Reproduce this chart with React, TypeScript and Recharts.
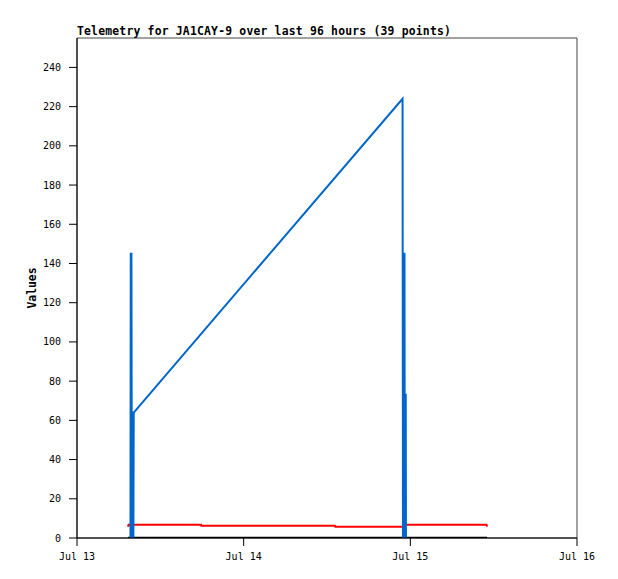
import { LineChart, Line, XAxis, YAxis, ReferenceArea } from "recharts";

// hours since Jul 13 00:00
const blueTimes = [7.7, 7.74, 7.84, 7.9, 7.95, 8.07, 8.12, 8.17, 46.88, 46.94, 47.0, 47.16, 47.2, 47.25, 47.34, 47.37];
const blueValues = [0, 145, 145, 0, 64, 64, 0, 64, 224, 0, 145, 145, 0, 73, 73, 0];

const redTimes = [7.34, 7.43, 17.86, 17.9, 37.15, 37.2, 46.94, 46.99, 58.97, 59.04];
const redValues = [5.7, 6.8, 6.8, 6.2, 6.2, 5.7, 5.7, 6.8, 6.8, 5.8];

const blackTimes = [7.34, 59.04];
const blackValues = [0, 0];

const xTicks = [0, 24, 48, 72];
const xTickLabels = ["Jul 13", "Jul 14", "Jul 15", "Jul 16"];
const yTicks = [0, 20, 40, 60, 80, 100, 120, 140, 160, 180, 200, 220, 240];

const title = "Telemetry for JA1CAY-9 over last 96 hours (39 points)";

const toPoints = (ts: number[], vs: number[]) => ts.map((t, i) => ({ t, v: vs[i] }));

const blue = toPoints(blueTimes, blueValues);
const red = toPoints(redTimes, redValues);
const black = toPoints(blackTimes, blackValues);

const font = "'DejaVu Sans Mono', monospace";
const tickStyle = { fontFamily: font, fontSize: 10, fill: "#000" };

export default function App() {
  return (
    <div style={{ position: "absolute", left: 0, top: 0, width: 618, height: 579, background: "#fff" }}>
      <LineChart width={618} height={579} margin={{ top: 38, right: 41, bottom: 11, left: 0 }}>
        <XAxis
          dataKey="t"
          type="number"
          domain={[0, 72]}
          ticks={xTicks}
          tickFormatter={(v: number) => xTickLabels[xTicks.indexOf(v)]}
          height={30}
          tickSize={8}
          tickMargin={7}
          stroke="#000"
          tick={tickStyle}
          allowDataOverflow
        />
        <YAxis
          type="number"
          domain={[0, 255]}
          ticks={yTicks}
          width={77}
          tickSize={8}
          tickMargin={8}
          stroke="#000"
          tick={tickStyle}
          allowDataOverflow
        />
        <ReferenceArea x1={0} x2={72} y1={0} y2={255} fill="none" stroke="#444" strokeWidth={1} />
        <Line data={black} dataKey="v" stroke="#000" strokeWidth={2.5} dot={false} isAnimationActive={false} />
        <Line data={red} dataKey="v" stroke="#ff0000" strokeWidth={2} dot={false} isAnimationActive={false} />
        <Line data={blue} dataKey="v" stroke="#0066cc" strokeWidth={2} dot={false} isAnimationActive={false} />
      </LineChart>
      <svg width={618} height={579} style={{ position: "absolute", left: 0, top: 0, pointerEvents: "none" }}>
        <text x={77} y={35} fontFamily={font} fontWeight="bold" fontSize={11.4} letterSpacing={0.2} fill="#000">
          {title}
        </text>
        <text
          x={36}
          y={288}
          transform="rotate(-90 36 288)"
          textAnchor="middle"
          fontFamily={font}
          fontWeight="bold"
          fontSize={11.4}
          fill="#000"
        >
          Values
        </text>
      </svg>
    </div>
  );
}
